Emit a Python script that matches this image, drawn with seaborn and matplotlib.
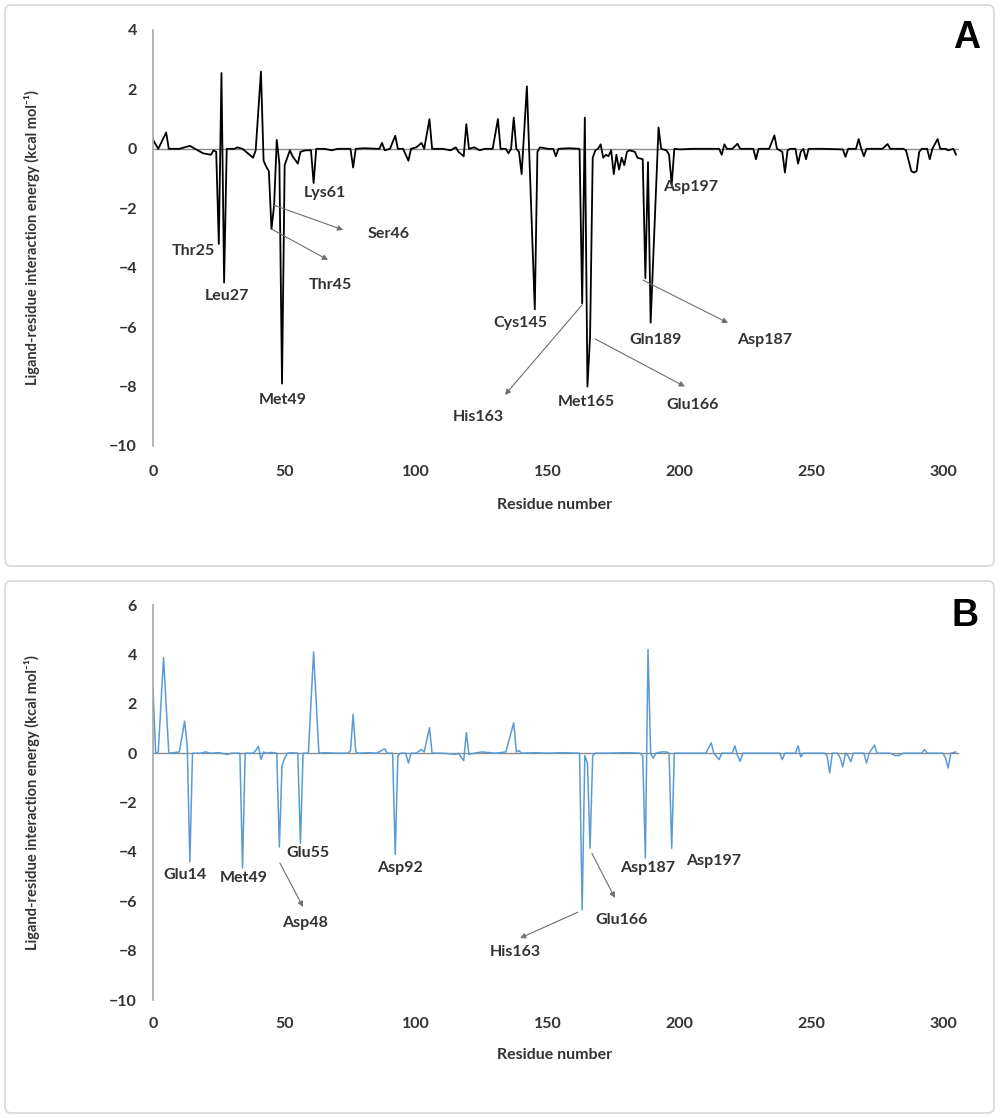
import matplotlib
matplotlib.use("Agg")
import matplotlib.pyplot as plt
from matplotlib.patches import FancyBboxPatch
import seaborn as sns
import pandas as pd

sns.set_theme(style="white")
plt.rcParams["font.family"] = ["Lato", "DejaVu Sans"]

# panel A: residue / energy vertices
res_a = [0, 2, 5, 6, 10, 14, 16, 19, 22, 23, 24, 25, 26, 27, 28, 31, 32, 34,
         38, 39, 41, 42, 43, 44, 45, 46, 47, 48, 49, 50, 52, 53, 55, 56, 58, 60,
         61, 62, 65, 68, 70, 75, 76, 77, 80, 86, 87, 88, 90, 92, 93, 95, 97, 98,
         100, 102, 103, 105, 106, 110, 113, 115, 116, 118, 119, 120, 122, 124,
         126, 129, 131, 132, 134, 135, 136, 137, 138, 139, 140, 142, 145, 146,
         147, 150, 152, 153, 154, 158, 162, 163, 164, 165, 166, 167, 168, 169,
         170, 171, 172, 173, 174, 175, 176, 177, 178, 179, 180, 181, 183, 184,
         186, 187, 188, 189, 192, 193, 195, 196, 197, 198, 200, 205, 210, 215,
         216, 217, 218, 220, 222, 223, 228, 229, 230, 234, 236, 237, 239, 240,
         241, 242, 244, 245, 246, 247, 248, 249, 255, 262, 263, 264, 267, 268,
         269, 270, 271, 277, 279, 280, 285, 286, 287, 288, 289, 290, 291, 292,
         294, 295, 296, 298, 299, 301, 302, 304, 305]
energy_a = [0.3, 0.0, 0.55, 0.0, 0.0, 0.1, 0.0, -0.15, -0.2, -0.05, -0.1, -3.2,
            2.55, -4.5, 0.0, 0.0, 0.05, 0.0, -0.3, -0.05, 2.6, -0.4, -0.6, -0.75,
            -2.7, -1.9, 0.3, -0.5, -7.9, -0.55, -0.05, -0.25, -0.5, -0.1, -0.05,
            -0.05, -1.15, 0.0, 0.0, -0.05, 0.0, 0.0, -0.63, 0.0, 0.02, 0.0, 0.2,
            -0.05, 0.0, 0.44, 0.0, 0.0, -0.4, 0.0, 0.05, 0.2, 0.0, 1.0, 0.0, 0.0,
            -0.05, 0.05, -0.1, -0.25, 0.83, 0.0, 0.05, -0.05, 0.0, 0.0, 1.0, 0.0,
            0.0, -0.15, 0.0, 1.05, 0.0, -0.1, -0.85, 2.1, -5.4, -0.1, 0.05, 0.0,
            0.0, -0.25, 0.0, 0.02, 0.0, -5.2, 1.05, -8.0, -6.3, -0.3, -0.05, 0.0,
            0.15, -0.3, -0.2, -0.25, -0.05, -0.85, -0.2, -0.7, -0.3, -0.55, -0.1,
            -0.05, -0.1, -0.3, -0.35, -4.35, -0.45, -5.85, 0.72, 0.0, -0.05, -0.2,
            -1.2, 0.0, -0.02, 0.0, 0.0, 0.0, -0.2, 0.15, 0.0, 0.0, 0.17, 0.0, 0.0,
            -0.35, 0.0, 0.0, 0.45, 0.0, -0.1, -0.8, -0.05, 0.0, 0.0, -0.5, -0.1,
            0.0, -0.35, 0.0, 0.0, -0.02, -0.27, 0.0, 0.0, 0.33, 0.0, -0.25, 0.0,
            0.0, 0.16, 0.0, 0.0, -0.05, -0.4, -0.75, -0.8, -0.75, -0.1, 0.0, 0.0,
            -0.35, 0.0, 0.33, 0.0, 0.0, -0.05, 0.0, -0.2]

# panel B
res_b = [0, 1, 2, 4, 6, 10, 12, 13, 14, 15, 18, 20, 22, 25, 28, 30, 33, 34, 35,
         38, 39, 40, 41, 42, 43, 45, 47, 48, 49, 50, 51, 53, 55, 56, 57, 59, 61,
         63, 65, 70, 74, 75, 76, 77, 78, 82, 85, 88, 89, 91, 92, 93, 94, 96, 97,
         98, 100, 102, 103, 105, 106, 110, 115, 116, 118, 119, 120, 122, 125,
         130, 134, 137, 138, 139, 140, 145, 150, 155, 161, 162, 163, 164, 165,
         166, 167, 168, 172, 180, 185, 186, 187, 188, 189, 190, 191, 193, 195,
         196, 197, 198, 200, 205, 210, 212, 213, 215, 216, 220, 221, 222, 223,
         224, 230, 238, 239, 240, 244, 245, 246, 247, 255, 256, 257, 258, 260,
         261, 262, 263, 264, 265, 266, 270, 271, 272, 274, 275, 280, 282, 283,
         285, 292, 293, 294, 300, 301, 302, 303, 305]
energy_b = [2.65, 0.0, 0.05, 3.87, 0.0, 0.05, 1.3, 0.3, -4.4, 0.0, 0.0, 0.05,
            0.0, 0.02, -0.05, 0.0, 0.0, -4.65, 0.0, 0.0, 0.1, 0.28, -0.25, 0.05,
            0.0, 0.03, 0.0, -3.8, -0.5, -0.2, 0.0, 0.02, 0.0, -3.65, 0.0, 0.0,
            4.1, 0.0, 0.02, 0.0, 0.0, 0.1, 1.57, 0.05, 0.0, 0.02, 0.0, 0.18, 0.0,
            0.0, -4.1, -0.1, 0.0, 0.0, -0.4, 0.0, 0.0, 0.15, 0.05, 1.03, 0.0, 0.0,
            -0.05, 0.0, -0.3, 0.83, -0.05, 0.0, 0.05, 0.0, 0.05, 1.23, 0.05, 0.1,
            0.0, 0.02, 0.0, 0.02, 0.0, 0.0, -6.35, -0.1, -0.4, -3.85, -0.1, 0.0,
            0.0, 0.02, 0.0, -0.1, -4.25, 4.2, 0.0, -0.2, 0.0, 0.05, 0.05, 0.0,
            -3.85, 0.0, 0.0, 0.0, 0.0, 0.42, 0.0, -0.26, 0.0, 0.0, 0.3, -0.1,
            -0.33, 0.0, 0.0, 0.0, -0.26, 0.0, 0.0, 0.3, -0.15, 0.0, 0.0, -0.1,
            -0.8, 0.0, 0.0, -0.2, -0.55, 0.0, -0.1, -0.35, 0.0, 0.0, -0.4, 0.0,
            0.33, 0.0, 0.0, -0.1, -0.1, 0.0, 0.0, 0.15, 0.0, 0.0, -0.2, -0.6, 0.0,
            0.05]

x_ticks = [0, 50, 100, 150, 200, 250, 300]
yticks_a = [-10, -8, -6, -4, -2, 0, 2, 4]
yticks_b = [-10, -8, -6, -4, -2, 0, 2, 4, 6]

ylabel = "Ligand-residue interaction energy (kcal mol\u207b\u00b9)"

# label text, text position, optional arrow (start, end)
labels_a = [
    ("Thr25", (15.2, -3.44), None),
    ("Leu27", (28.1, -4.95), None),
    ("Met49", (49.4, -8.45), None),
    ("Lys61", (65.3, -1.49), None),
    ("Ser46", (89.3, -2.87), ((46, -1.9), (72.2, -2.73))),
    ("Thr45", (67.2, -4.58), ((45, -2.7), (66.5, -3.74))),
    ("Cys145", (139.4, -5.86), None),
    ("His163", (123.4, -9.02), ((163, -5.25), (133.7, -8.28))),
    ("Met165", (164.5, -8.52), None),
    ("Glu166", (205.1, -8.62), ((168, -6.4), (202, -8.0))),
    ("Gln189", (190.7, -6.43), None),
    ("Asp187", (232.4, -6.43), ((186.1, -4.42), (218.4, -5.86))),
    ("Asp197", (204, -1.28), None),
]
labels_b = [
    ("Glu14", (12.2, -4.93), None),
    ("Met49", (34.6, -5.06), None),
    ("Glu55", (58.9, -4.05), None),
    ("Asp48", (57.7, -6.88), ((48.2, -4.45), (57.0, -6.23))),
    ("Asp92", (93.8, -4.65), None),
    ("His163", (137.5, -8.06), ((161.4, -6.44), (139.4, -7.49))),
    ("Glu166", (178.1, -6.77), ((166.7, -4.06), (175.4, -5.86))),
    ("Asp187", (188.0, -4.65), None),
    ("Asp197", (213.0, -4.37), None),
]

txt_col = "#333333"
fig = plt.figure(figsize=(10, 11.18), dpi=100)

# rounded frames around each panel
for y0, h in [(0.4937, 0.5018), (0.0045, 0.4758)]:
    fig.patches.append(FancyBboxPatch((0.005, y0), 0.989, h, transform=fig.transFigure,
                                      boxstyle="round,pad=0,rounding_size=0.006",
                                      fc="none", ec="#d9d9d9", lw=1.3, zorder=-1))

ax_a = fig.add_axes([0.153, 0.6011, 0.8057, 0.3721])
ax_b = fig.add_axes([0.153, 0.1055, 0.8057, 0.3533])

panels = [
    (ax_a, res_a, energy_a, "black", 1.3, yticks_a, (-10, 4), labels_a, 14, -0.125),
    (ax_b, res_b, energy_b, "#5b9bd5", 1.1, yticks_b, (-10, 6), labels_b, 12, -0.122),
]

for ax, xs, ys, col, lw, yt, ylim, labs, xpad, xlab_y in panels:
    ax.set_facecolor("none")
    ax.axhline(0, color="#8c8c8c", lw=1.0, zorder=1)
    df = pd.DataFrame({"res": xs, "energy": ys})
    sns.lineplot(data=df, x="res", y="energy", ax=ax, color=col, lw=lw,
                 estimator=None, sort=False, zorder=2)
    ax.set_xlim(0, 306)
    ax.set_ylim(*ylim)
    ax.set_xticks(x_ticks)
    ax.set_yticks(yt)
    ax.tick_params(axis="x", length=0, pad=xpad, labelsize=11.5, labelcolor=txt_col)
    ax.tick_params(axis="y", length=0, pad=11.5, labelsize=11.5, labelcolor=txt_col)
    for t in ax.get_xticklabels() + ax.get_yticklabels():
        t.set_fontweight("bold")
    for s in ["top", "right", "bottom"]:
        ax.spines[s].set_visible(False)
    ax.spines["left"].set_color("#a6a6a6")
    ax.spines["left"].set_linewidth(1.2)
    ax.set_xlabel("Residue number", fontsize=11.5, fontweight="bold", color=txt_col)
    ax.set_ylabel(ylabel, fontsize=10.5, fontweight="bold", color=txt_col)
    ax.xaxis.set_label_coords(0.499, xlab_y)
    ax.yaxis.set_label_coords(-0.140, 0.5)
    for name, pos, arrow in labs:
        ax.text(pos[0], pos[1], name, ha="center", va="center", fontsize=11.5,
                fontweight="bold", color=txt_col)
        if arrow is not None:
            ax.annotate("", xy=arrow[1], xytext=arrow[0],
                        arrowprops=dict(arrowstyle="-|>", color="#6e6e6e", lw=0.8,
                                        mutation_scale=8, shrinkA=0, shrinkB=0))

fig.text(0.967, 1 - 38 / 1118, "A", fontsize=27, fontweight="bold",
         ha="center", va="center", color="black", family=["Liberation Sans"])
fig.text(0.965, 1 - 616 / 1118, "B", fontsize=27, fontweight="bold",
         ha="center", va="center", color="black", family=["Liberation Sans"])

fig.savefig("out.png", dpi=100)
